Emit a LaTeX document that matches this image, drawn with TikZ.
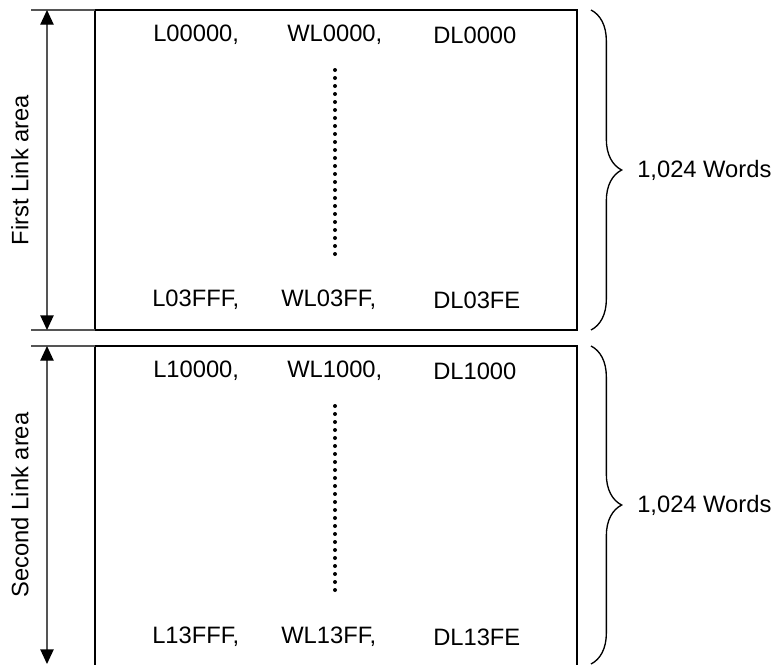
\documentclass[tikz,border=0pt]{standalone}
\usepackage{fontspec}
\setmainfont{Liberation Sans}
\usepackage{xcolor}
\usetikzlibrary{arrows.meta, positioning, calc, decorations.pathreplacing}
\definecolor{dimgray}{RGB}{85, 85, 85}

\begin{document}
\begin{tikzpicture}[x=0.75pt, y=-0.75pt, >={Triangle[width=10pt,length=11pt,black]},
    entry/.style={anchor=west, inner sep=0pt, font=\fontsize{17.8}{20}\selectfont},
    label/.style={inner sep=0pt, font=\fontsize{17.8}{20}\selectfont},
    dimline/.style={dimgray, line width=1pt},
    dots/.style={line width=3pt, line cap=round, dash pattern=on 0pt off 6pt},
    curly/.style={decorate, decoration={brace, amplitude=23pt}, line width=1pt}]
    \useasboundingbox (0,0) rectangle (778,664);
    % memory blocks
    \draw[line width=1.2pt] (95,10) rectangle (577,330);
    \draw[line width=1.2pt] (95,680) -- (95,346) -- (577,346) -- (577,680);
    % extension lines and size arrows
    \coordinate (t1) at (47,10);
    \coordinate (b1) at (47,330);
    \coordinate (t2) at (47,346);
    \coordinate (b2) at (47,664);
    \draw[dimline] (31,10) -- (95,10);
    \draw[dimline] (31,330) -- (95,330);
    \draw[dimline] (31,346) -- (95,346);
    \draw[dimline, <->] (t1) -- (b1);
    \draw[dimline, <->] (t2) -- (b2);
    \node[label, rotate=90] (first) at (20,170) {First Link area};
    \node[label, rotate=90] (second) at (20,505) {Second Link area};
    % first area entries
    \node[entry] (l0) at (153,35) {L00000,};
    \node[entry] (wl0) at (287,35) {WL0000,};
    \node[entry] (dl0) at (433,35) {DL0000};
    \node[entry] (l1) at (152,300) {L03FFF,};
    \node[entry] (wl1) at (281,300) {WL03FF,};
    \node[entry] (dl1) at (433,300) {DL03FE};
    \draw[dots] (335,70) -- (335,260);
    % second area entries
    \node[entry] (l2) at (153,371) {L10000,};
    \node[entry] (wl2) at (287,371) {WL1000,};
    \node[entry] (dl2) at (433,371) {DL1000};
    \node[entry] (l3) at (152,637) {L13FFF,};
    \node[entry] (wl3) at (281,637) {WL13FF,};
    \node[entry] (dl3) at (433,637) {DL13FE};
    \draw[dots] (335,406) -- (335,596);
    % braces
    \draw[curly] (591,10) -- (591,330);
    \draw[curly] (591,346) -- (591,664);
    \node[entry] (w1) at (637,170) {1,024 Words};
    \node[entry] (w2) at (637,505) {1,024 Words};
\end{tikzpicture}
\end{document}
